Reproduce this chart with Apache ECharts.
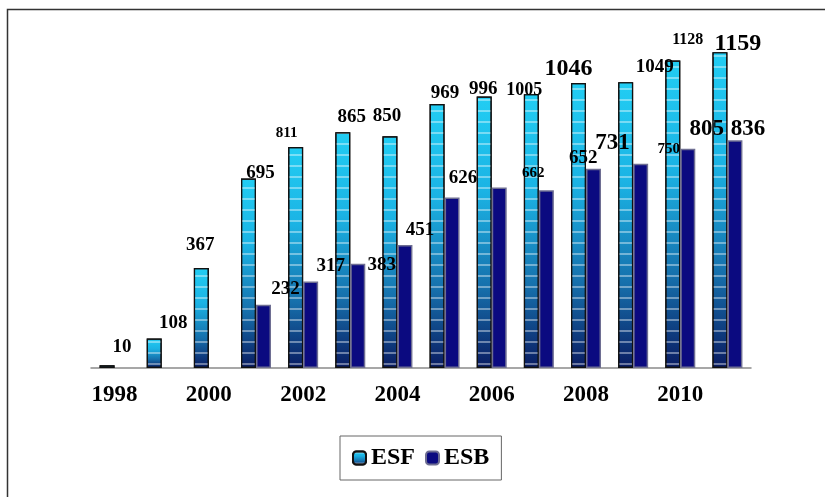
<!DOCTYPE html>
<html>
<head>
<meta charset="utf-8">
<script src="https://cdn.jsdelivr.net/npm/echarts@6/dist/echarts.min.js"></script>
<style>
  html, body { margin: 0; padding: 0; background: #fff; }
  #chart { width: 825px; height: 497px; }
</style>
</head>
<body>
<div id="chart"></div>
<script>
// Yearly counts for the two series
const years = ['1998', '1999', '2000', '2001', '2002', '2003', '2004',
               '2005', '2006', '2007', '2008', '2009', '2010', '2011'];
const esf = [10, 108, 367, 695, 811, 865, 850, 969, 996, 1005, 1046, 1049, 1128, 1159];
const esb = [null, null, null, 232, 317, 383, 451, 626, 662, 652, 731, 750, 805, 836];

// Label placement tweaks: [dx, dy, fontSize] per bar
const esfLabelLayout = [
  [15, -4, 19], [19, -1, 19], [-1, -8, 19], [12, 9, 19], [-9, -1, 15],
  [9, -1, 19], [-3, -6, 19], [8, 4, 19], [-1, 7, 19], [-7, 10, 18],
  [-10, 3, 24], [29, -1, 19], [15, -8, 16], [18, 9, 24]
];
const esbLabelLayout = [
  null, null, null, [22, -1, 19], [20, -1, 19], [24, 16, 19], [15, -1, 19],
  [11, -5, 19], [34, -2, 15], [37, -18, 19], [19, -9, 23], [28, -2, 15],
  [19, -3, 23], [13, 5, 23]
];

const serif = 'Liberation Serif, Times New Roman, serif';

function withLabels(values, layout) {
  return values.map((v, i) => {
    if (v == null) return null;
    const [dx, dy, size] = layout[i];
    return {
      value: v,
      label: { offset: [dx, dy], fontSize: size }
    };
  });
}

const esfFill = new echarts.graphic.LinearGradient(0, 0, 0, 1, [
  { offset: 0, color: '#22CDF3' },
  { offset: 0.35, color: '#1BB3E4' },
  { offset: 0.7, color: '#1670AC' },
  { offset: 1, color: '#0A1C62' }
]);

const chart = echarts.init(document.getElementById('chart'), null, { renderer: 'canvas' });

chart.setOption({
  animation: false,
  backgroundColor: '#ffffff',
  graphic: [{
    type: 'rect',
    shape: { x: 7.5, y: 9.5, width: 840, height: 520 },
    style: { fill: 'none', stroke: '#333', lineWidth: 1.5 },
    silent: true
  }],
  grid: { left: 91, right: 74, top: 41, bottom: 129 },
  legend: {
    data: ['ESF', 'ESB'],
    left: 340,
    top: 436,
    itemWidth: 13,
    itemHeight: 13,
    itemGap: 10,
    padding: [10, 12],
    borderColor: '#666',
    borderWidth: 1,
    textStyle: { fontFamily: serif, fontWeight: 'bold', fontSize: 24, color: '#000' }
  },
  xAxis: {
    type: 'category',
    data: years,
    axisLine: { lineStyle: { color: '#8a8a8a', width: 1.5 } },
    axisTick: { interval: 0, length: 5, lineStyle: { color: '#8a8a8a' } },
    axisLabel: {
      interval: 1,
      margin: 16,
      fontFamily: serif,
      fontWeight: 'bold',
      fontSize: 23,
      color: '#000'
    }
  },
  yAxis: {
    type: 'value',
    min: 0,
    max: 1200,
    show: false,
    splitLine: { show: false }
  },
  series: [
    {
      name: 'ESF',
      type: 'bar',
      barWidth: 15,
      barGap: '0%',
      data: withLabels(esf, esfLabelLayout),
      itemStyle: {
        color: esfFill,
        borderColor: '#111',
        borderWidth: 1.2,
        decal: {
          symbol: 'rect',
          symbolSize: 1,
          dashArrayX: [1, 0],
          dashArrayY: [1.5, 9],
          color: 'rgba(255,255,255,0.4)'
        }
      },
      label: {
        show: true,
        position: 'top',
        distance: 5,
        fontFamily: serif,
        fontWeight: 'bold',
        color: '#000'
      }
    },
    {
      name: 'ESB',
      type: 'bar',
      barWidth: 15,
      data: withLabels(esb, esbLabelLayout),
      itemStyle: {
        color: '#0B0A80',
        borderColor: '#6E6E92',
        borderWidth: 1.5
      },
      label: {
        show: true,
        position: 'top',
        distance: 5,
        fontFamily: serif,
        fontWeight: 'bold',
        color: '#000'
      }
    }
  ]
});
</script>
</body>
</html>
